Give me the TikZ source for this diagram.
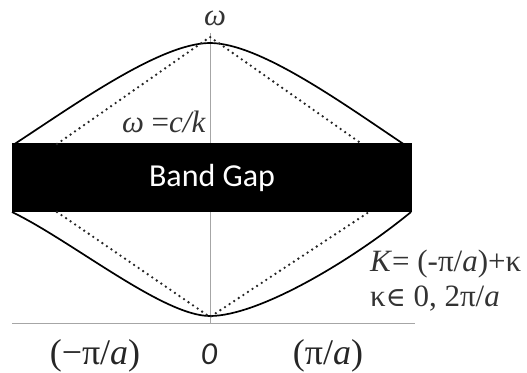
\documentclass[tikz,border=0pt]{standalone}
\usepackage{fontspec}
\setmainfont{Liberation Serif}
\newfontfamily\gapfont{Carlito}
\newfontfamily\symfont{DejaVu Serif}
\usetikzlibrary{positioning}

\begin{document}
\begin{tikzpicture}[x=1pt, y=-1pt,
    axis/.style={draw=gray!70, line width=0.9pt},
    band/.style={draw=black, line width=1.7pt},
    light/.style={draw=black!85, line cap=round, dash pattern=on 0pt off 5.5pt, line width=2.6pt},
    gap/.style={rectangle, fill=black, text=white, minimum width=400pt, minimum height=69pt, inner sep=0pt, font=\gapfont\fontsize{32}{32}\selectfont},
    lbl/.style={text=black!80, inner sep=0pt, font=\fontsize{31}{31}\selectfont},
    tick/.style={text=black!85, inner sep=0pt, font=\fontsize{36}{36}\selectfont}]

    \useasboundingbox (0,0) rectangle (527,372);

    % Axes
    \coordinate (ytop) at (210,33);
    \coordinate (ybot) at (210,323);
    \coordinate (xleft) at (12,323);
    \coordinate (xright) at (415,323);
    \draw [axis] (ytop) -- (ybot);
    \draw [axis] (xleft) -- (xright);

    % Nodes
    \node [gap] (gap) at (212,177.5) {Band Gap};
    \node [lbl, anchor=base] (omega) at (215,25) {\textit{ω}};
    \node [lbl, anchor=base east] (light) at (206,132) {\textit{ω} =\textit{c/k}};
    \node [lbl, anchor=base west] (kdef) at (370,271) {\textit{K}= (-π/\textit{a})+κ};
    \node [lbl, below=8pt of kdef.south west, anchor=north west] (krange) {κ{\symfont\fontsize{27}{27}\selectfont ∈} 0, 2π/\textit{a}};
    \node [tick, anchor=base] (kmin) at (95,364) {(−π/\textit{a})};
    \node [tick, anchor=base, font=\gapfont\itshape\fontsize{32}{32}\selectfont] (kzero) at (209,364) {0};
    \node [tick, anchor=base] (kmax) at (328,364) {(π/\textit{a})};

    % Bands
    \coordinate (upL) at (13,145);
    \coordinate (upM) at (210,43);
    \coordinate (upR) at (405,145);
    \coordinate (loL) at (12,212);
    \coordinate (loM) at (210,316);
    \coordinate (loR) at (411,212);
    \draw [band] (upL) .. controls (73,106) and (160,43) .. (upM)
        .. controls (260,43) and (345,105) .. (upR);
    \draw [band] (loL) .. controls (72,241) and (163,316) .. (loM)
        .. controls (258,316) and (350,262) .. (loR);

    % Light lines
    \coordinate (ltop) at (210,37);
    \coordinate (lbot) at (210,317);
    \draw [light] (57,144) -- (ltop) -- (362,144);
    \draw [light] (57,212) -- (lbot) -- (369,212);

\end{tikzpicture}
\end{document}
